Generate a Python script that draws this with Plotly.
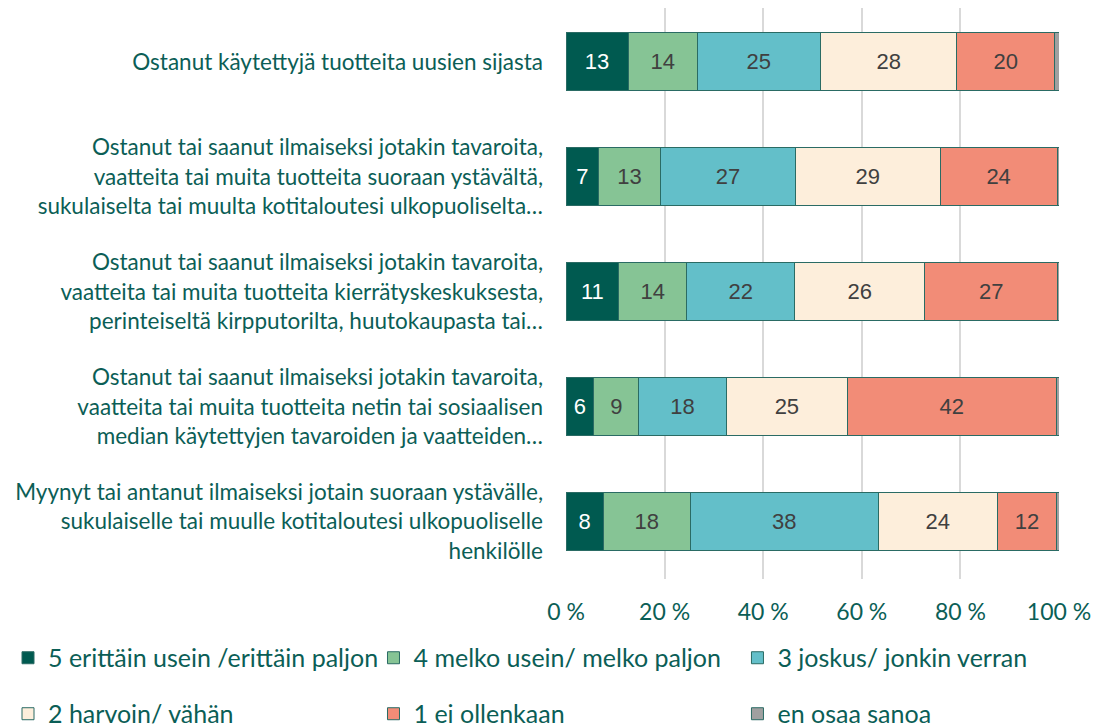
import plotly.graph_objects as go

categories = [
    "Ostanut käytettyjä tuotteita uusien sijasta",
    "Ostanut tai saanut ilmaiseksi jotakin tavaroita,<br>vaatteita tai muita tuotteita suoraan ystävältä,<br>sukulaiselta tai muulta kotitaloutesi ulkopuoliselta…",
    "Ostanut tai saanut ilmaiseksi jotakin tavaroita,<br>vaatteita tai muita tuotteita kierrätyskeskuksesta,<br>perinteiseltä kirpputorilta, huutokaupasta tai…",
    "Ostanut tai saanut ilmaiseksi jotakin tavaroita,<br>vaatteita tai muita tuotteita netin tai sosiaalisen<br>median käytettyjen tavaroiden ja vaatteiden…",
    "Myynyt tai antanut ilmaiseksi jotain suoraan ystävälle,<br>sukulaiselle tai muulle kotitaloutesi ulkopuoliselle<br>henkilölle",
]

series_names = [
    "5 erittäin usein /erittäin paljon",
    "4 melko usein/ melko paljon",
    "3 joskus/ jonkin verran",
    "2 harvoin/ vähän",
    "1 ei ollenkaan",
    "en osaa sanoa",
]

v5 = [12.6, 6.6, 10.7, 5.6, 7.6]
v4 = [14.0, 12.6, 13.8, 9.2, 17.6]
v3 = [25.0, 27.3, 21.9, 17.7, 38.1]
v2 = [27.7, 29.4, 26.4, 24.6, 24.2]
v1 = [19.8, 23.7, 26.9, 42.3, 12.0]
v0 = [0.9, 0.4, 0.3, 0.6, 0.5]

tick_vals = [0, 20, 40, 60, 80, 100]
tick_text = ["0 %", "20 %", "40 %", "60 %", "80 %", "100 %"]

colors = ["#005a50", "#86c495", "#63bfc9", "#fdeedb", "#f28c77", "#a0a0a0"]
text_colors = ["#ffffff", "#404040", "#404040", "#404040", "#404040", "#404040"]

teal = "#0b5e56"
fig = go.Figure()
legend_ids = ["legend", "legend2", "legend3", "legend4", "legend5", "legend6"]
for i, (name, vals) in enumerate(zip(series_names, [v5, v4, v3, v2, v1, v0])):
    show_text = i < 5
    fig.add_trace(go.Bar(
        y=categories, x=vals, name=name, orientation="h",
        marker=dict(color=colors[i], line=dict(color="#2a6b64", width=1)),
        texttemplate="%{x:.0f}" if show_text else "",
        textposition="inside" if show_text else "none",
        insidetextanchor="middle",
        textfont=dict(family="Liberation Sans, Arial, sans-serif", size=22, color=text_colors[i]),
        constraintext="none",
        legend=legend_ids[i],
        hoverinfo="x+name",
    ))

# legend column/row positions (container fractions)
leg_x = [0.0, 0.3344, 0.6674]
leg_y = [0.0922, 0.0140]
legend_layout = {}
for i, lid in enumerate(legend_ids):
    legend_layout[lid] = dict(
        orientation="h", xref="container", yref="container",
        x=leg_x[i % 3], y=leg_y[i // 3], xanchor="left", yanchor="middle",
        font=dict(size=25, color=teal), itemwidth=30,
        bgcolor="rgba(0,0,0,0)",
    )

fig.update_layout(
    barmode="stack",
    bargap=0.495,
    width=1093, height=716,
    margin=dict(l=558, r=42, t=0, b=144.5, autoexpand=False),
    paper_bgcolor="white", plot_bgcolor="white",
    font=dict(family="Lato, sans-serif", color=teal, size=22),
    xaxis=dict(range=[0, 100], tickvals=tick_vals, ticktext=tick_text,
               showgrid=True, gridcolor="#d9d9d9", gridwidth=2,
               zeroline=False, showline=False, ticks="", automargin=False,
               tickfont=dict(size=23, color=teal), ticklabelstandoff=17),
    yaxis=dict(range=[4.5, -0.4696], showgrid=False, ticks="", automargin=False,
               tickfont=dict(size=22.5, color=teal), ticklabelstandoff=22),
    showlegend=True,
    **legend_layout,
)

fig.write_html("out.html")
